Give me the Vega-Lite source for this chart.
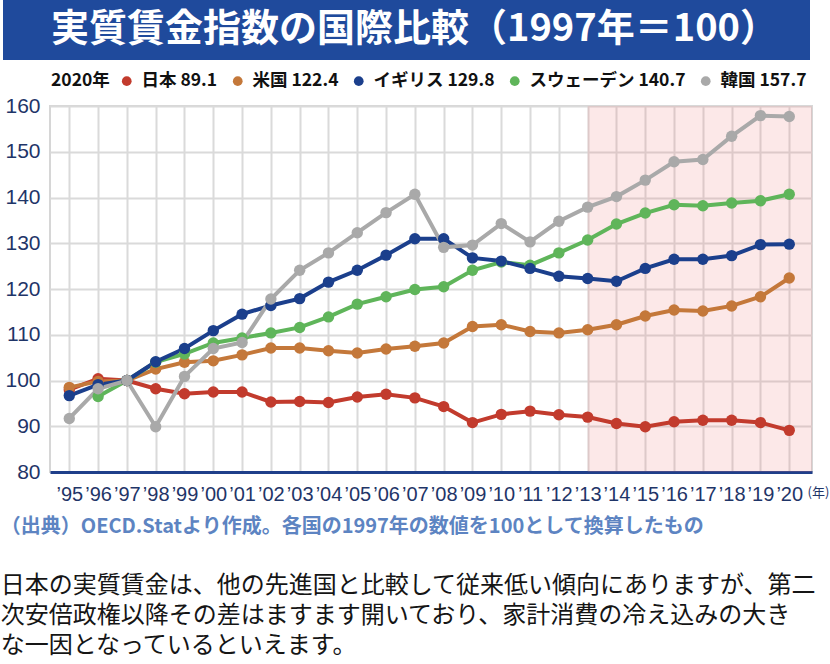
{
  "$schema": "https://vega.github.io/schema/vega-lite/v6.json",
  "padding": {"left": 0, "top": 0, "right": 0, "bottom": 0},
  "background": "white",
  "spacing": 35,
  "config": {"font": "Noto Sans CJK JP"},
  "vconcat": [
    {
      "width": 807,
      "height": 60,
      "view": {"fill": "#1f4a9c", "stroke": null},
      "data": {"values": [{"t": "実質賃金指数の国際比較（1997年＝100）"}]},
      "mark": {"type": "text", "fontSize": 38, "fontWeight": "bold", "color": "white", "font": "Noto Sans CJK JP", "align": "center", "baseline": "middle", "dx": 8},
      "encoding": {"text": {"field": "t"}}
    },
    {
      "spacing": 9,
      "resolve": {"scale": {"y": "independent"}},
      "title": {
        "text": "（出典）OECD.Statより作成。各国の1997年の数値を100として換算したもの",
        "subtitle": [
          "日本の実質賃金は、他の先進国と比較して従来低い傾向にありますが、第二",
          "次安倍政権以降その差はますます開いており、家計消費の冷え込みの大き",
          "な一因となっているといえます。"
        ],
        "orient": "bottom",
        "anchor": "start",
        "frame": "bounds",
        "offset": 12,
        "font": "Noto Sans CJK JP",
        "fontSize": 20,
        "fontWeight": "bold",
        "color": "#5d84c2",
        "subtitleFont": "Noto Sans CJK JP",
        "subtitleFontSize": 24,
        "subtitleColor": "#151515",
        "subtitleLineHeight": 30,
        "subtitlePadding": 37
      },
      "hconcat": [
        {
          "width": 1,
          "height": 366,
          "view": {"stroke": null},
          "data": {"values": [{"v": 80}, {"v": 160}]},
          "mark": {"type": "point", "opacity": 0},
          "encoding": {
            "y": {
              "field": "v",
              "type": "quantitative",
              "scale": {"domain": [80, 160], "nice": false, "zero": false},
              "axis": {
                "orient": "right",
                "values": [80, 90, 100, 110, 120, 130, 140, 150, 160],
                "labelFont": "Liberation Sans",
                "labelFontSize": 21,
                "labelColor": "#1f3568",
                "labelAlign": "right",
                "labelPadding": 36,
                "ticks": false,
                "domain": false,
                "grid": false,
                "title": null
              }
            }
          }
        },
        {
          "width": 762,
          "height": 366,
          "view": {"stroke": "#d6d6d6", "strokeWidth": 2},
          "data": {
            "values": [
              {"year": 1995, "日本": 98.0, "米国": 98.5, "イギリス": 96.7, "スウェーデン": null, "韓国": 91.7},
              {"year": 1996, "日本": 100.4, "米国": 99.8, "イギリス": 99.1, "スウェーデン": 96.5, "韓国": 98.2},
              {"year": 1997, "日本": 100, "米国": 100, "イギリス": 100, "スウェーデン": 100, "韓国": 100},
              {"year": 1998, "日本": 98.2, "米国": 102.5, "イギリス": 104.1, "スウェーデン": 104.0, "韓国": 89.9},
              {"year": 1999, "日本": 97.1, "米国": 104.0, "イギリス": 107.0, "スウェーデン": 105.8, "韓国": 100.9},
              {"year": 2000, "日本": 97.5, "米国": 104.3, "イギリス": 110.9, "スウェーデン": 108.2, "韓国": 107.0},
              {"year": 2001, "日本": 97.5, "米国": 105.6, "イギリス": 114.5, "スウェーデン": 109.3, "韓国": 108.3},
              {"year": 2002, "日本": 95.3, "米国": 107.1, "イギリス": 116.4, "スウェーデン": 110.4, "韓国": 117.8},
              {"year": 2003, "日本": 95.4, "米国": 107.1, "イギリス": 117.9, "スウェーデン": 111.6, "韓国": 124.1},
              {"year": 2004, "日本": 95.2, "米国": 106.5, "イギリス": 121.5, "スウェーデン": 113.9, "韓国": 127.9},
              {"year": 2005, "日本": 96.4, "米国": 106.0, "イギリス": 124.1, "スウェーデン": 116.7, "韓国": 132.3},
              {"year": 2006, "日本": 97.0, "米国": 106.9, "イギリス": 127.4, "スウェーデン": 118.3, "韓国": 136.7},
              {"year": 2007, "日本": 96.2, "米国": 107.5, "イギリス": 131.0, "スウェーデン": 119.9, "韓国": 140.7},
              {"year": 2008, "日本": 94.3, "米国": 108.2, "イギリス": 131.0, "スウェーデン": 120.5, "韓国": 129.1},
              {"year": 2009, "日本": 90.8, "米国": 111.8, "イギリス": 126.8, "スウェーデン": 124.1, "韓国": 129.6},
              {"year": 2010, "日本": 92.6, "米国": 112.2, "イギリス": 126.1, "スウェーデン": 125.9, "韓国": 134.3},
              {"year": 2011, "日本": 93.3, "米国": 110.7, "イギリス": 124.5, "スウェーデン": 125.2, "韓国": 130.3},
              {"year": 2012, "日本": 92.5, "米国": 110.4, "イギリス": 122.8, "スウェーデン": 127.9, "韓国": 134.8},
              {"year": 2013, "日本": 92.0, "米国": 111.1, "イギリス": 122.3, "スウェーデン": 130.7, "韓国": 137.9},
              {"year": 2014, "日本": 90.6, "米国": 112.2, "イギリス": 121.7, "スウェーデン": 134.2, "韓国": 140.2},
              {"year": 2015, "日本": 89.9, "米国": 114.1, "イギリス": 124.5, "スウェーデン": 136.6, "韓国": 143.8},
              {"year": 2016, "日本": 91.0, "米国": 115.4, "イギリス": 126.5, "スウェーデン": 138.4, "韓国": 147.8},
              {"year": 2017, "日本": 91.3, "米国": 115.2, "イギリス": 126.5, "スウェーデン": 138.2, "韓国": 148.3},
              {"year": 2018, "日本": 91.3, "米国": 116.3, "イギリス": 127.3, "スウェーデン": 138.8, "韓国": 153.4},
              {"year": 2019, "日本": 90.8, "米国": 118.3, "イギリス": 129.7, "スウェーデン": 139.3, "韓国": 157.9},
              {"year": 2020, "日本": 89.1, "米国": 122.4, "イギリス": 129.8, "スウェーデン": 140.7, "韓国": 157.7}
            ]
          },
          "transform": [
            {"fold": ["日本", "米国", "スウェーデン", "イギリス", "韓国"], "as": ["country", "value"]}
          ],
          "encoding": {
            "x": {
              "field": "year",
              "type": "quantitative",
              "scale": {"domain": [1994.33, 2020.79], "nice": false, "zero": false},
              "axis": {
                "values": [1995, 1996, 1997, 1998, 1999, 2000, 2001, 2002, 2003, 2004, 2005, 2006, 2007, 2008, 2009, 2010, 2011, 2012, 2013, 2014, 2015, 2016, 2017, 2018, 2019, 2020],
                "labelExpr": "'’' + slice(toString(datum.value), 2)",
                "labelFont": "Liberation Sans",
                "labelFontSize": 20,
                "labelColor": "#1f3568",
                "labelOverlap": false,
                "labelFlush": false,
                "labelPadding": 12,
                "ticks": false,
                "domainColor": "#1f3f8a",
                "domainWidth": 3,
                "grid": true,
                "gridColor": "#dadada",
                "gridWidth": 2,
                "title": "(年)",
                "titleFont": "Noto Sans CJK JP",
                "titleFontSize": 13,
                "titleFontWeight": "normal",
                "titleColor": "#1f3568",
                "titleX": 768,
                "titleY": 20,
                "titleAlign": "center",
                "titleBaseline": "middle"
              }
            },
            "y": {
              "field": "value",
              "type": "quantitative",
              "scale": {"domain": [80, 160], "nice": false, "zero": false},
              "axis": {
                "values": [80, 90, 100, 110, 120, 130, 140, 150, 160],
                "labels": false,
                "minExtent": 0,
                "ticks": false,
                "domain": false,
                "grid": true,
                "gridColor": "#dadada",
                "gridWidth": 2,
                "title": null
              }
            },
            "color": {
              "field": "country",
              "type": "nominal",
              "scale": {
                "domain": ["日本", "米国", "イギリス", "スウェーデン", "韓国"],
                "range": ["#c23b2d", "#c4783a", "#1b3f8c", "#5fb55a", "#a9a9a9"]
              },
              "legend": {
                "orient": "none",
                "legendX": 48,
                "legendY": 72,
                "direction": "horizontal",
                "title": "2020年",
                "titleOrient": "left",
                "titleFont": "Noto Sans CJK JP",
                "titleFontSize": 17.5,
                "titleFontWeight": "bold",
                "titleColor": "#111111",
                "titlePadding": 8,
                "labelFont": "Noto Sans CJK JP",
                "labelFontSize": 17.5,
                "labelFontWeight": "bold",
                "labelColor": "#111111",
                "labelLimit": 300,
                "labelOffset": 6,
                "columnPadding": 11,
                "symbolType": "circle",
                "symbolSize": 95,
                "symbolStrokeWidth": 0,
                "symbolOpacity": 1,
                "labelExpr": "datum.label == '日本' ? '日本 89.1' : datum.label == '米国' ? '米国 122.4' : datum.label == 'イギリス' ? 'イギリス 129.8' : datum.label == 'スウェーデン' ? 'スウェーデン 140.7' : '韓国 157.7'"
              }
            }
          },
          "layer": [
            {
              "data": {"values": [{"start": 2013, "end": 2020.79}]},
              "transform": [],
              "mark": {"type": "rect", "color": "#f08080", "opacity": 0.18},
              "encoding": {
                "x": {"field": "start", "type": "quantitative"},
                "x2": {"field": "end"},
                "y": null,
                "color": null
              }
            },
            {
              "mark": {"type": "line", "strokeWidth": 4},
              "encoding": {}
            },
            {
              "mark": {"type": "point", "filled": true, "size": 130, "opacity": 1},
              "encoding": {}
            }
          ]
        }
      ]
    }
  ]
}
